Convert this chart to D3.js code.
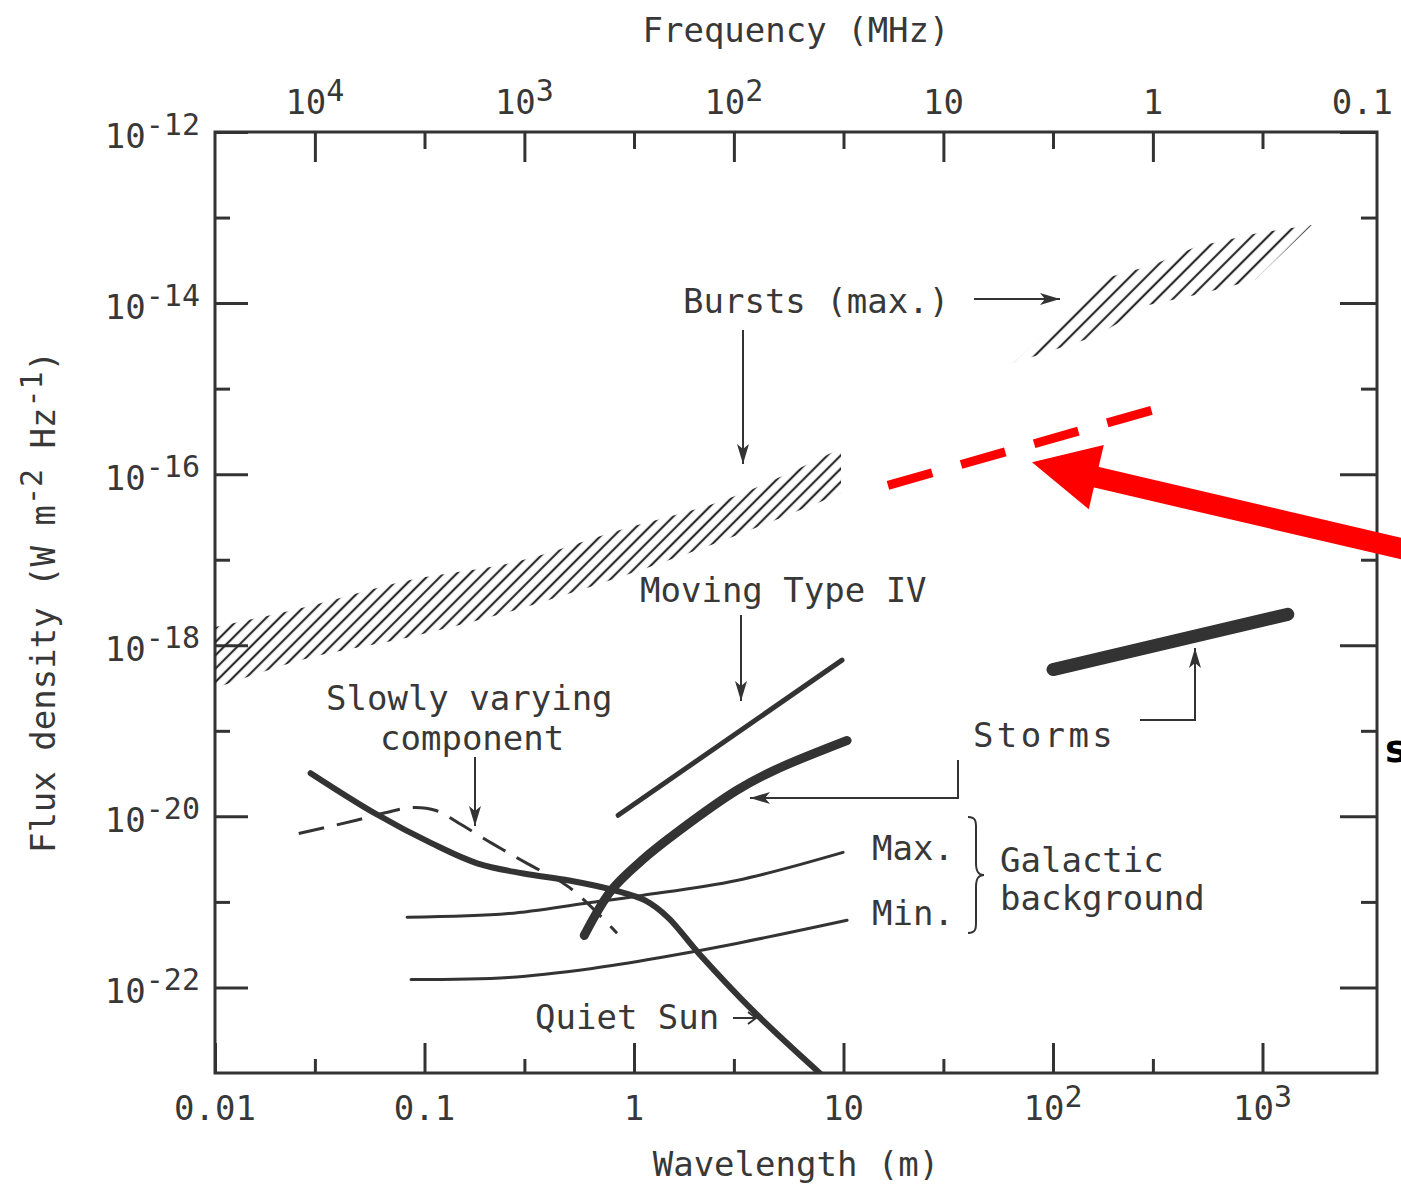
<!DOCTYPE html>
<html lang="en">
<head>
<meta charset="utf-8">
<script src="https://cdn.jsdelivr.net/npm/d3@7"></script>
<title>Solar radio flux density</title>
<style>
  body { margin: 0; background: #fff; }
  svg { display: block; font-family: "DejaVu Sans Mono", monospace; }
  text { fill: #383838; }
</style>
</head>
<body>
<svg id="chart" width="1401" height="1185"></svg>
<script>
// c in m*MHz, turns wavelength (m) into frequency (MHz)
var C = 299.79;

// ticks and labels
var wlTicks = [0.01, 0.1, 1, 10, 100, 1000];
var wlTickLabels = [["0.01"], ["0.1"], ["1"], ["10"], ["10", "2"], ["10", "3"]];
var freqTicks = [1e4, 1e3, 100, 10, 1, 0.1];
var freqTickLabels = [["10", "4"], ["10", "3"], ["10", "2"], ["10"], ["1"], ["0.1"]];
var fluxTicks = [1e-12, 1e-14, 1e-16, 1e-18, 1e-20, 1e-22];
var fluxTickLabels = [["10", "-12"], ["10", "-14"], ["10", "-16"], ["10", "-18"], ["10", "-20"], ["10", "-22"]];
var fluxMinor = [1e-13, 1e-15, 1e-17, 1e-19, 1e-21];

// curves : wavelength (m) / flux density (W m-2 Hz-1)
var quietWl   = [0.0286, 0.0582, 0.109, 0.180, 0.297, 0.491, 0.812, 1.13, 1.45, 2.04, 3.80, 7.73];
var quietFlux = [3.2e-20, 1.08e-20, 4.8e-21, 2.8e-21, 2.15e-21, 1.78e-21, 1.36e-21, 1.04e-21, 6.6e-22, 2.5e-22, 5.0e-23, 9.9e-24];

var slowWl   = [0.0251, 0.0473, 0.0657, 0.0881, 0.1135, 0.146, 0.211, 0.310, 0.491, 0.830];
var slowFlux = [6.3e-21, 9.0e-21, 1.11e-20, 1.27e-20, 1.17e-20, 8.3e-21, 4.8e-21, 2.8e-21, 1.48e-21, 4.3e-22];

var stormLowWl   = [0.579, 0.778, 1.09, 1.65, 3.09, 4.67, 10.4];
var stormLowFlux = [4.06e-22, 1.36e-21, 3.06e-21, 6.85e-21, 2.01e-20, 3.45e-20, 7.7e-20];
var stormHighWl   = [100, 1320];
var stormHighFlux = [5.2e-19, 2.3e-18];

var typeIVWl   = [0.84, 9.84];
var typeIVFlux = [1.03e-20, 6.7e-19];

var galMaxWl   = [0.0826, 0.252, 0.579, 1.09, 3.09, 9.95];
var galMaxFlux = [6.6e-22, 7.3e-22, 9.6e-22, 1.19e-21, 1.78e-21, 3.79e-21];
var galMinWl   = [0.0863, 0.252, 0.631, 1.34, 3.09, 10.4];
var galMinFlux = [1.24e-22, 1.31e-22, 1.67e-22, 2.24e-22, 3.27e-22, 6.1e-22];

// burst bands (hatched)
var burstWl   = [0.01, 0.0256, 0.0843, 0.269, 0.849, 2.68, 9.73];
var burstHigh = [1.63e-18, 2.71e-18, 5.76e-18, 9.35e-18, 2.21e-17, 4.96e-17, 2.01e-16];
var burstLow  = [3.14e-19, 6.7e-19, 1.24e-18, 2.57e-18, 6.24e-18, 1.69e-17, 6.0e-17];
var burst2Wl   = [64.6, 166, 299, 478, 952, 1719, 921, 478, 286, 160];
var burst2Flux = [1.99e-15, 1.86e-14, 2.78e-14, 4.52e-14, 6.59e-14, 8.17e-14, 1.86e-14, 1.24e-14, 9.5e-15, 4.1e-15];

// red overlay
var redDashWl   = [16.3, 308];
var redDashFlux = [7.4e-17, 5.75e-16];
var redArrowWl   = [79.4, 6000];
var redArrowFlux = [1.38e-16, 1.16e-17];

var ink = "#333";
var svg = d3.select("#chart");
var marge = {top: 132, left: 215, right: 1377, bottom: 1073};

var x = d3.scaleLog().domain([0.01, 3520]).range([marge.left, marge.right]);
var xf = d3.scaleLog().domain([C / 0.01, C / 3520]).range([marge.left, marge.right]);
var y = d3.scaleLog().domain([1e-23, 1e-12]).range([marge.bottom, marge.top]);

function zip(a, b) { return a.map(function(v, i) { return [v, b[i]]; }); }

var defs = svg.append("defs");
defs.append("clipPath").attr("id", "plot").append("rect")
  .attr("x", marge.left).attr("y", marge.top)
  .attr("width", marge.right - marge.left).attr("height", marge.bottom - marge.top);

function hatch(id, step) {
  var p = defs.append("pattern").attr("id", id)
    .attr("patternUnits", "userSpaceOnUse")
    .attr("width", step).attr("height", 20)
    .attr("patternTransform", "rotate(45)");
  p.append("line").attr("x1", step / 2).attr("x2", step / 2).attr("y1", 0).attr("y2", 20)
    .attr("stroke", "#2a2a2a").attr("stroke-width", 2.2);
}
hatch("hatchA", 9.4);
hatch("hatchB", 11.5);

defs.append("marker").attr("id", "arr")
  .attr("markerUnits", "userSpaceOnUse")
  .attr("viewBox", "0 -7 22 14").attr("refX", 20).attr("refY", 0)
  .attr("markerWidth", 22).attr("markerHeight", 14).attr("orient", "auto")
  .append("path").attr("d", "M0,-6L20,0L0,6L5,0Z").attr("fill", ink);

// ticks, inside the frame
function ticks(axis, tx, ty, vals, size) {
  svg.append("g").attr("transform", "translate(" + tx + "," + ty + ")")
    .attr("color", ink)
    .call(axis.tickValues(vals).tickSizeInner(size).tickSizeOuter(0).tickFormat(function() { return ""; }))
    .call(function(g) { g.select(".domain").remove(); })
    .selectAll("line").attr("stroke-width", 3);
}
ticks(d3.axisBottom(x), 0, marge.bottom, wlTicks, -30);
ticks(d3.axisBottom(x), 0, marge.bottom, freqTicks.slice(0, 5).map(function(f) { return C / f; }), -14);
ticks(d3.axisTop(xf), 0, marge.top, freqTicks.slice(0, 5), -30);
ticks(d3.axisTop(xf), 0, marge.top, wlTicks.slice(1).map(function(w) { return C / w; }), -17);
ticks(d3.axisLeft(y), marge.left, 0, fluxTicks, -33);
ticks(d3.axisLeft(y), marge.left, 0, fluxMinor, -15);
ticks(d3.axisRight(y), marge.right, 0, fluxTicks, -37);
ticks(d3.axisRight(y), marge.right, 0, fluxMinor, -16);

svg.append("rect")
  .attr("x", marge.left).attr("y", marge.top)
  .attr("width", marge.right - marge.left).attr("height", marge.bottom - marge.top)
  .attr("fill", "none").attr("stroke", ink).attr("stroke-width", 3);

// labels with superscripts
function supText(parts, px, py, anchor) {
  var t = svg.append("text").attr("x", px).attr("y", py)
    .attr("text-anchor", anchor).attr("font-size", 34);
  t.append("tspan").text(parts[0]);
  if (parts[1]) t.append("tspan").attr("font-size", 30).attr("dy", -13).text(parts[1]);
  return t;
}
wlTicks.forEach(function(v, i) { supText(wlTickLabels[i], x(v), 1120, "middle"); });
freqTicks.forEach(function(v, i) { supText(freqTickLabels[i], xf(v), 114, "middle"); });
fluxTicks.forEach(function(v, i) { supText(fluxTickLabels[i], 200, y(v) + 16, "end"); });

svg.append("text").attr("x", 796).attr("y", 42).attr("text-anchor", "middle")
  .attr("font-size", 34).text("Frequency (MHz)");
svg.append("text").attr("x", 796).attr("y", 1176).attr("text-anchor", "middle")
  .attr("font-size", 34).text("Wavelength (m)");

var yl = svg.append("text").attr("transform", "translate(55,602) rotate(-90)")
  .attr("text-anchor", "middle").attr("font-size", 34);
yl.append("tspan").text("Flux density (W m");
yl.append("tspan").attr("font-size", 30).attr("dy", -13).text("-2");
yl.append("tspan").attr("dy", 13).text(" Hz");
yl.append("tspan").attr("font-size", 30).attr("dy", -13).text("-1");
yl.append("tspan").attr("dy", 13).text(")");

// data
var plot = svg.append("g").attr("clip-path", "url(#plot)");
var line = d3.line().x(function(d) { return x(d[0]); }).y(function(d) { return y(d[1]); })
  .curve(d3.curveCatmullRom.alpha(0.5));
var area = d3.area().x(function(d) { return x(d[0]); })
  .y0(function(d) { return y(d[2]); }).y1(function(d) { return y(d[1]); })
  .curve(d3.curveMonotoneX);
var poly = d3.line().x(function(d) { return x(d[0]); }).y(function(d) { return y(d[1]); })
  .curve(d3.curveLinearClosed);

plot.append("path")
  .attr("d", area(burstWl.map(function(w, i) { return [w, burstHigh[i], burstLow[i]]; })))
  .attr("fill", "url(#hatchA)");
plot.append("path").attr("d", poly(zip(burst2Wl, burst2Flux))).attr("fill", "url(#hatchB)");

function curve(wl, fl, width, dash) {
  plot.append("path").attr("d", line(zip(wl, fl)))
    .attr("fill", "none").attr("stroke", ink).attr("stroke-width", width)
    .attr("stroke-linecap", dash ? "butt" : "round")
    .attr("stroke-dasharray", dash || null);
}
curve(galMaxWl, galMaxFlux, 3);
curve(galMinWl, galMinFlux, 3);
curve(slowWl, slowFlux, 3, "26,13");
curve(quietWl, quietFlux, 6);
curve(typeIVWl, typeIVFlux, 5);
curve(stormLowWl, stormLowFlux, 9);
curve(stormHighWl, stormHighFlux, 13);

// annotations
function txt(s, px, py, extra) {
  var t = svg.append("text").attr("x", px).attr("y", py).attr("font-size", 34).text(s);
  if (extra) t.attr("letter-spacing", extra);
  return t;
}
function pointer(pts) {
  svg.append("path").attr("d", d3.line()(pts)).attr("fill", "none")
    .attr("stroke", ink).attr("stroke-width", 2)
    .attr("marker-end", "url(#arr)");
}
txt("Bursts (max.)", 683, 313);
pointer([[974, 299], [1060, 299]]);
pointer([[743, 330], [743, 464]]);
txt("Moving Type IV", 640, 602);
pointer([[741, 615], [741, 701]]);
txt("Slowly varying", 326, 710);
txt("component", 380, 750);
pointer([[475, 757], [475, 826]]);
txt("Storms", 973, 747, 3.4);
pointer([[1140, 720], [1195, 720], [1195, 648]]);
pointer([[958, 760], [958, 798], [750, 798]]);
txt("Max.", 872, 860);
txt("Min.", 872, 925);
svg.append("path")
  .attr("d", "M968,817C977,817 976,823 976,831L976,863C976,871 978,875 984,875C978,875 976,879 976,887L976,919C976,927 977,933 968,933")
  .attr("fill", "none").attr("stroke", ink).attr("stroke-width", 2);
txt("Galactic", 1000, 872);
txt("background", 1000, 910);
txt("Quiet Sun", 535, 1029);
svg.append("path").attr("d", "M733,1018L756,1018M748,1012L756,1018L748,1024")
  .attr("fill", "none").attr("stroke", ink).attr("stroke-width", 2);

// red overlay
var red = "#ff0000";
svg.append("path").attr("d", d3.line().x(function(d) { return x(d[0]); }).y(function(d) { return y(d[1]); })(zip(redDashWl, redDashFlux)))
  .attr("stroke", red).attr("stroke-width", 9).attr("stroke-dasharray", "46,30").attr("fill", "none");

var tip = [x(redArrowWl[0]), y(redArrowFlux[0])];
var tail = [x(redArrowWl[1]), y(redArrowFlux[1])];
var ang = Math.atan2(tail[1] - tip[1], tail[0] - tip[0]);
var ux = Math.cos(ang), uy = Math.sin(ang);
var base = [tip[0] + 66 * ux, tip[1] + 66 * uy];
svg.append("line").attr("x1", base[0] - 4 * ux).attr("y1", base[1] - 4 * uy)
  .attr("x2", tail[0]).attr("y2", tail[1])
  .attr("stroke", red).attr("stroke-width", 21);
svg.append("path").attr("fill", red)
  .attr("d", "M" + tip + "L" + [base[0] - 33 * uy, base[1] + 33 * ux] + "L" + [base[0] + 33 * uy, base[1] - 33 * ux] + "Z");

// cut-off letter at the right edge of the picture
svg.append("text").attr("x", 1385).attr("y", 762)
  .attr("font-family", "'DejaVu Sans', sans-serif").attr("font-weight", "bold")
  .attr("font-size", 38).style("fill", "#000").text("s");
</script>
</body>
</html>
